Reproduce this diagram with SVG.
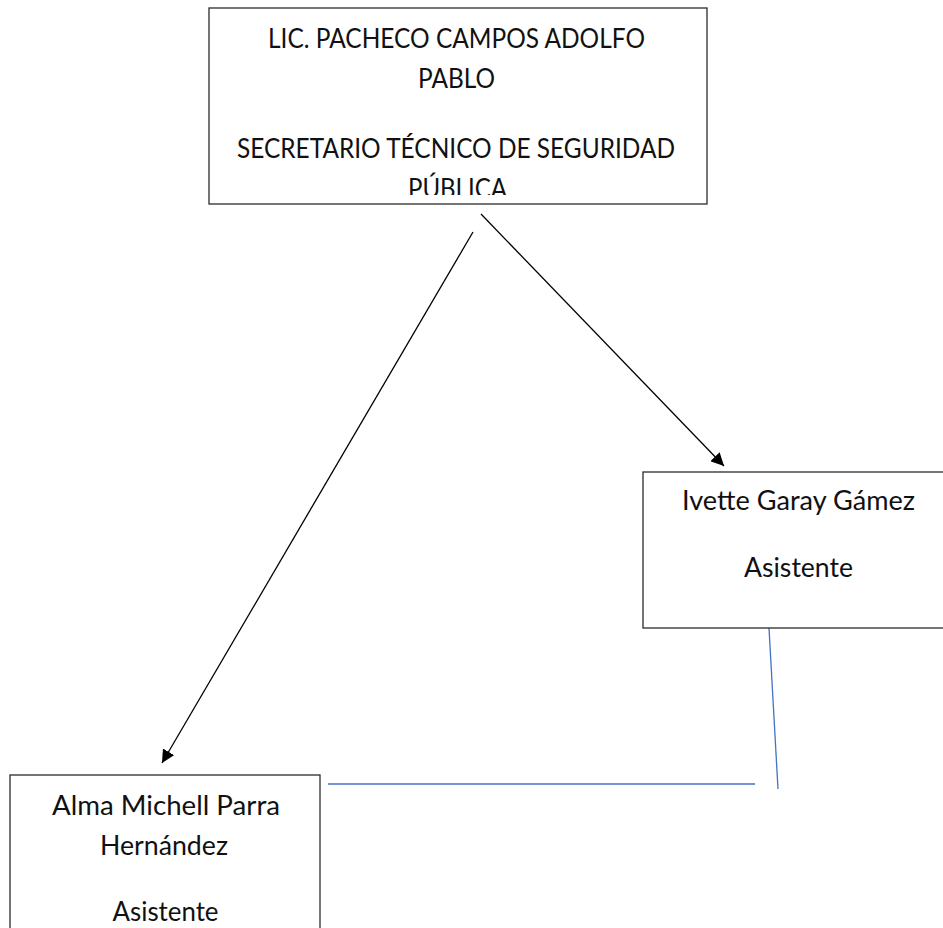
<svg xmlns="http://www.w3.org/2000/svg" width="943" height="928" viewBox="0 0 943 928">
<style>
.box{fill:#fff;stroke:#2b2b2b;stroke-width:1.3}
.t{font-family:Lato,"Open Sans","Liberation Sans",sans-serif;font-size:26px;fill:#111;text-anchor:middle}
.arr{stroke:#000;stroke-width:1.3;fill:none;marker-end:url(#ah)}
.blue{stroke:#4472c4;stroke-width:1.3;fill:none}
</style>
<defs>
<marker id="ah" markerWidth="13" markerHeight="13" refX="10" refY="5" orient="auto" markerUnits="userSpaceOnUse" viewBox="0 0 10 10">
<path d="M0,0 L10,5 L0,10 z" fill="#000"/>
</marker>
<clipPath id="cTop"><rect x="209" y="8" width="498" height="187"/></clipPath>
</defs>
<rect width="943" height="928" fill="#fff"/>
<g id="connectors">
<line class="arr" x1="473" y1="232" x2="162" y2="763"/>
<line class="arr" x1="481" y1="214" x2="724" y2="466"/>
<line class="blue" x1="769" y1="628" x2="778" y2="789"/>
<line class="blue" x1="328" y1="784" x2="755" y2="784"/>
</g>
<g id="node-secretario">
<rect class="box" x="209" y="8" width="498" height="196"/>
<g clip-path="url(#cTop)">
<text class="t" x="456.5" y="48" textLength="377" lengthAdjust="spacingAndGlyphs">LIC. PACHECO CAMPOS ADOLFO</text>
<text class="t" x="456.5" y="88" textLength="77" lengthAdjust="spacingAndGlyphs">PABLO</text>
<text class="t" x="456" y="158" textLength="438" lengthAdjust="spacingAndGlyphs">SECRETARIO TÉCNICO DE SEGURIDAD</text>
<text class="t" x="457.5" y="198" textLength="99" lengthAdjust="spacingAndGlyphs">PÚBLICA</text>
</g>
</g>
<g id="node-ivette">
<rect class="box" x="643" y="472" width="320" height="156"/>
<text class="t" x="798.5" y="510" textLength="233" lengthAdjust="spacingAndGlyphs">Ivette Garay Gámez</text>
<text class="t" x="798.5" y="577" textLength="109" lengthAdjust="spacingAndGlyphs">Asistente</text>
</g>
<g id="node-alma">
<rect class="box" x="10" y="775" width="310" height="200"/>
<text class="t" x="166" y="815" textLength="228" lengthAdjust="spacingAndGlyphs">Alma Michell Parra</text>
<text class="t" x="164" y="855" textLength="128" lengthAdjust="spacingAndGlyphs">Hernández</text>
<text class="t" x="165.5" y="921" textLength="106" lengthAdjust="spacingAndGlyphs">Asistente</text>
</g>
</svg>
